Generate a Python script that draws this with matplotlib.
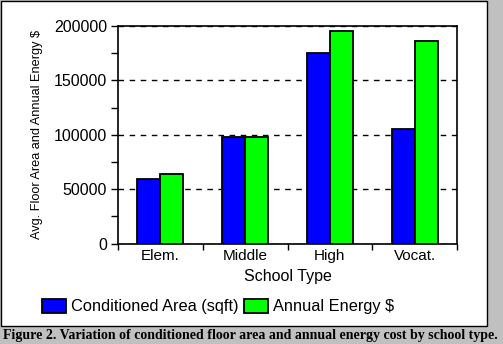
import matplotlib.pyplot as plt
import matplotlib.patches as patches
import numpy as np
from matplotlib.ticker import MultipleLocator, FixedLocator, NullFormatter

# data
school_types = ['Elem.', 'Middle', 'High', 'Vocat.']
cond_area = [59000, 98000, 175000, 105000]
annual_energy = [64000, 98000, 195000, 186000]

plt.rcParams['font.family'] = ['Liberation Sans', 'DejaVu Sans']

fig = plt.figure(figsize=(5.03, 3.44), dpi=100, facecolor='#c0c0c0')

# white chart panel with black border
panel = patches.Rectangle((0.5 / 503, 1 - 326 / 344), 486 / 503, 325 / 344,
                          transform=fig.transFigure, facecolor='white',
                          edgecolor='black', linewidth=1, zorder=-5)
fig.patches.append(panel)

ax = fig.add_axes([118 / 503, 1 - 243.7 / 344, 339 / 503, 217.7 / 344])
ax.set_facecolor('white')

x = np.arange(len(school_types))
w = 0.271
b1 = ax.bar(x - w / 2, cond_area, w, color='#0000ff', edgecolor='black',
            linewidth=1.3, label='Conditioned Area (sqft)', zorder=3)
b2 = ax.bar(x + w / 2, annual_energy, w, color='#00ff00', edgecolor='black',
            linewidth=1.3, label='Annual Energy $', zorder=3)

ax.set_xlim(-0.5, 3.5)
ax.set_ylim(0, 200000)

# x: tick marks at category boundaries, labels at centres
ax.xaxis.set_major_locator(FixedLocator(np.arange(-0.5, 4, 1)))
ax.xaxis.set_major_formatter(NullFormatter())
ax.set_xticks(x, school_types, minor=True)
ax.tick_params(axis='x', which='major', direction='out', length=4, width=1, color='black')
ax.tick_params(axis='x', which='minor', length=0, labelsize=11, pad=4)

ax.yaxis.set_major_locator(MultipleLocator(50000))
ax.yaxis.set_minor_locator(MultipleLocator(25000))
ax.tick_params(axis='y', which='major', direction='out', length=5, width=1, labelsize=11.5, pad=3)
ax.tick_params(axis='y', which='minor', direction='out', length=5, width=1)
ax.yaxis.grid(True, which='major', linestyle=(0, (4, 4)), color='black', linewidth=1, zorder=1)

for s in ax.spines.values():
    s.set_linewidth(1.2)
    s.set_color('black')

ax.set_xlabel('School Type', fontsize=11.5, labelpad=4)
ax.set_ylabel('Avg. Floor Area and Annual Energy $', fontsize=9.2)
ax.yaxis.set_label_coords(-0.222, 0.5)

fig.legend(handles=[b1, b2], loc='center', bbox_to_anchor=(218 / 503, 1 - 306.7 / 344),
           ncol=2, frameon=False, fontsize=11.8, handlelength=1.5, handleheight=0.9,
           handletextpad=0.3, columnspacing=0.3, borderaxespad=0)

fig.text(250 / 503, 1 - 336 / 344,
         'Figure 2. Variation of conditioned floor area and annual energy cost by school type.',
         ha='center', va='center', fontsize=10, fontweight='bold',
         family=['Liberation Serif', 'DejaVu Serif'])

fig.savefig('out.png', dpi=100, facecolor=fig.get_facecolor())
